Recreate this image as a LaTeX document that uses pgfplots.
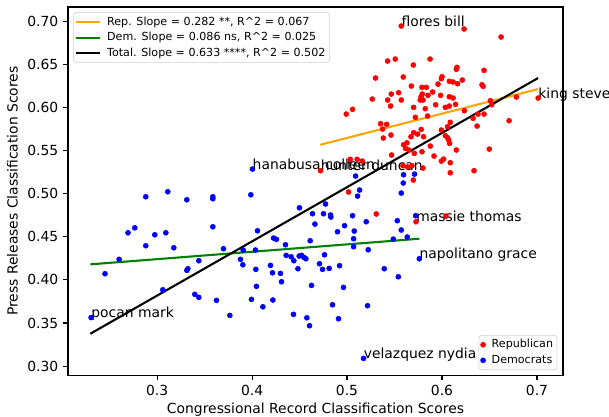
\documentclass[border=0pt]{standalone}
\usepackage{fontspec}
\setmainfont{DejaVu Sans}
\usepackage{pgfplots}
\pgfplotsset{compat=1.18}
\definecolor{mplorange}{HTML}{FFA500}
\definecolor{mplgreen}{HTML}{008000}
\begin{document}
\begin{tikzpicture}
\useasboundingbox (-48.96pt,-29.52pt) rectangle (389.52pt,270.04pt);
\pgfplotsset{
  common/.style={
    width=356.4pt, height=265pt, scale only axis,
    xmin=0.2062, xmax=0.7274, ymin=0.2896, ymax=0.7165,
  },
  mylegend/.style={
    legend cell align=left,
    legend style={
      font=\fontsize{8}{9.6}\selectfont,
      draw=black!20, rounded corners=2pt, fill=white, fill opacity=0.8,
      draw opacity=1, text opacity=1,
      inner sep=1.2pt, row sep=0pt, column sep=2.8pt,
      nodes={inner sep=1.6pt, text height=6.2pt, text depth=1.8pt},
    },
  },
}
\begin{axis}[
  common, mylegend, clip=false,
  xtick={0.3,0.4,0.5,0.6,0.7},
  xticklabels={0.3,0.4,0.5,0.6,0.7},
  ytick={0.30,0.35,0.40,0.45,0.50,0.55,0.60,0.65,0.70},
  yticklabels={0.30,0.35,0.40,0.45,0.50,0.55,0.60,0.65,0.70},
  tick align=outside, tick pos=left,
  major tick length=3.5pt,
  every tick/.style={black, line width=0.8pt},
  axis line style={line width=0.8pt},
  ticklabel style={font=\fontsize{10}{12}\selectfont},
  label style={font=\fontsize{10}{12}\selectfont},
  xlabel={Congressional Record Classification Scores},
  xlabel style={yshift=1.2pt},
  ylabel={Press Releases Classification Scores},
  legend style={at={(rel axis cs:0.0107,0.9856)}, anchor=north west},
]
% Republican
\addplot[only marks, mark=*, mark size=1.8pt, red, forget plot] coordinates {
(0.5571,0.6944) (0.5427,0.6538) (0.5508,0.6561) (0.5698,0.6492) (0.5874,0.6561)
(0.5300,0.6341) (0.5592,0.6353) (0.5677,0.6248) (0.5466,0.6155) (0.5543,0.6171)
(0.5427,0.6086) (0.5571,0.6086) (0.5266,0.6097) (0.5789,0.6233) (0.5835,0.6233)
(0.5792,0.6155) (0.5779,0.6124) (0.5771,0.6086) (0.5800,0.6086) (0.5852,0.6140)
(0.5901,0.6179) (0.5958,0.6271) (0.5993,0.6333) (0.6077,0.6303) (0.5985,0.6140)
(0.6077,0.6124) (0.5458,0.6016) (0.5701,0.6001) (0.5824,0.5985) (0.5933,0.6031)
(0.6035,0.6001) (0.6077,0.6016) (0.5058,0.5978) (0.4992,0.5923) (0.5353,0.5811)
(0.5416,0.5804) (0.5719,0.5885) (0.5848,0.5900) (0.5374,0.5749) (0.5463,0.5680)
(0.5701,0.5707) (0.5743,0.5691) (0.5806,0.5660) (0.5673,0.5660) (0.5993,0.5738)
(0.6059,0.5776) (0.6232,0.6910) (0.6622,0.6817) (0.6151,0.6442) (0.6158,0.6465)
(0.6443,0.6430) (0.6000,0.6356) (0.6116,0.6295) (0.6164,0.6275) (0.6214,0.6318)
(0.6421,0.6263) (0.6432,0.6245) (0.6116,0.6109) (0.6143,0.6036) (0.6235,0.5962)
(0.6509,0.6078) (0.6523,0.6031) (0.6783,0.6121) (0.7012,0.6109) (0.6379,0.5923)
(0.6443,0.5923) (0.6327,0.5874) (0.6706,0.5846) (0.6087,0.5827) (0.6369,0.5784)
(0.6059,0.5648) (0.6035,0.5672) (0.6070,0.5622) (0.6151,0.5506) (0.6498,0.5517)
(0.6017,0.5401) (0.5993,0.5378) (0.6087,0.5359) (0.6087,0.5242) (0.6337,0.5266)
(0.6042,0.4740) (0.5382,0.5645) (0.5595,0.5567) (0.5631,0.5590) (0.5616,0.5525)
(0.5652,0.5506) (0.5708,0.5467) (0.5789,0.5486) (0.5877,0.5552) (0.5916,0.5436)
(0.5469,0.5448) (0.5589,0.5324) (0.5638,0.5309) (0.5684,0.5324) (0.5800,0.5297)
(0.5698,0.5158) (0.5107,0.5398) (0.5034,0.5398) (0.5160,0.5378) (0.4721,0.5266)
(0.5016,0.5019) (0.5308,0.4764) (0.5726,0.4674) (0.5781,0.5745) (0.6080,0.5583)
};
% Democrats
\addplot[only marks, mark=*, mark size=1.8pt, blue, forget plot] coordinates {
(0.2305,0.3563) (0.4004,0.5285) (0.2881,0.4964) (0.3113,0.5022) (0.3313,0.4929)
(0.3587,0.4964) (0.3587,0.4941) (0.3987,0.4987) (0.2694,0.4546) (0.2765,0.4604)
(0.2976,0.4523) (0.3092,0.4546) (0.3587,0.4616) (0.2881,0.4396) (0.3176,0.4372)
(0.4057,0.4569) (0.3699,0.4361) (0.3906,0.4346) (0.4036,0.4346) (0.2600,0.4238)
(0.3439,0.4222) (0.3878,0.4238) (0.3903,0.4175) (0.3324,0.4129) (0.3313,0.4110)
(0.4040,0.4122) (0.2452,0.4071) (0.3060,0.3885) (0.4046,0.3925) (0.3397,0.3832)
(0.3439,0.3797) (0.3625,0.3762) (0.3994,0.3774) (0.3766,0.3588) (0.5090,0.5204)
(0.5595,0.5219) (0.5711,0.5227) (0.5592,0.5123) (0.5571,0.5007) (0.5132,0.5042)
(0.5111,0.4972) (0.4773,0.4880) (0.4499,0.4836) (0.4636,0.4767) (0.4752,0.4767)
(0.4826,0.4752) (0.4830,0.4729) (0.5058,0.4744) (0.4662,0.4647) (0.4974,0.4628)
(0.5202,0.4674) (0.5529,0.4686) (0.5722,0.4744) (0.5761,0.4245) (0.4226,0.4485)
(0.4257,0.4470) (0.4352,0.4407) (0.4612,0.4454) (0.4900,0.4558) (0.5076,0.4566)
(0.5069,0.4477) (0.5069,0.4384) (0.5487,0.4473) (0.5634,0.4497) (0.5571,0.4578)
(0.5223,0.4349) (0.4359,0.4284) (0.4412,0.4268) (0.4440,0.4222) (0.4496,0.4276)
(0.4521,0.4284) (0.4546,0.4261) (0.4567,0.4245) (0.4763,0.4291) (0.4710,0.4187)
(0.4742,0.4122) (0.4812,0.4133) (0.4921,0.4164) (0.4483,0.4129) (0.4194,0.4168)
(0.4215,0.4082) (0.4299,0.4075) (0.4310,0.3978) (0.4626,0.3936) (0.4963,0.3913)
(0.5392,0.4129) (0.5540,0.4036) (0.4219,0.3766) (0.4114,0.3688) (0.4436,0.3600)
(0.4577,0.3560) (0.4605,0.3468) (0.4847,0.3711) (0.4910,0.3549) (0.5216,0.3700)
(0.5174,0.3089)
};
\addplot[mplorange, line width=1.5pt] coordinates {(0.4718,0.5567) (0.7012,0.6213)};
\addlegendentry{Rep. Slope = 0.282 **, R\textasciicircum 2 = 0.067}
\addplot[mplgreen, line width=1.5pt] coordinates {(0.2297,0.4180) (0.5761,0.4477)};
\addlegendentry{Dem. Slope = 0.086 ns, R\textasciicircum 2 = 0.025}
\addplot[black, line width=1.5pt] coordinates {(0.2297,0.3375) (0.7012,0.6341)};
\addlegendentry{Total. Slope = 0.633 ****, R\textasciicircum 2 = 0.502}
\begin{scope}[every node/.style={anchor=base west, inner sep=0pt, font=\fontsize{10}{12}\selectfont}]
\node at (axis cs:0.2305,0.3563) {pocan mark};
\node at (axis cs:0.4004,0.5285) {hanabusa colleen};
\node at (axis cs:0.4721,0.5266) {hunter duncan};
\node at (axis cs:0.5571,0.6944) {flores bill};
\node at (axis cs:0.7012,0.6109) {king steve};
\node at (axis cs:0.5726,0.4674) {massie thomas};
\node at (axis cs:0.5761,0.4245) {napolitano grace};
\node at (axis cs:0.5174,0.3089) {velazquez nydia};
\end{scope}
\end{axis}
\begin{axis}[
  common, mylegend, hide axis,
  legend style={at={(rel axis cs:0.9883,0.0136)}, anchor=south east},
]
\addlegendimage{only marks, mark=*, mark size=1.8pt, red, fill opacity=1, draw opacity=1}
\addlegendentry{Republican}
\addlegendimage{only marks, mark=*, mark size=1.8pt, blue, fill opacity=1, draw opacity=1}
\addlegendentry{Democrats}
\end{axis}
\end{tikzpicture}
\end{document}
